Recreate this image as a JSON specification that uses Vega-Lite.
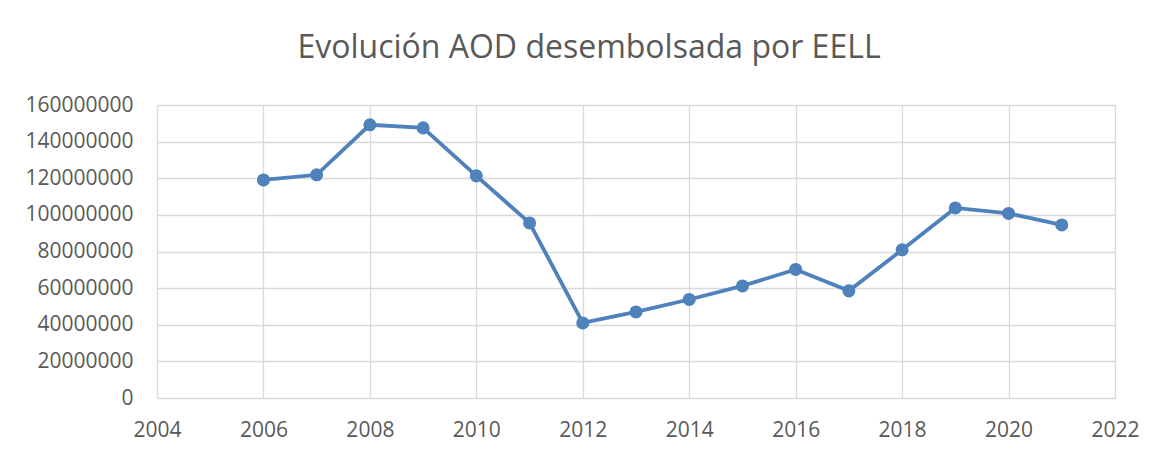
{
  "$schema": "https://vega.github.io/schema/vega-lite/v6.json",
  "autosize": {"type": "none"},
  "width": 958,
  "height": 293,
  "padding": {"left": 157, "top": 105, "right": 48, "bottom": 57},
  "background": "white",
  "config": {
    "view": {"stroke": null},
    "font": "Open Sans"
  },
  "title": {
    "text": "Evolución AOD desembolsada por EELL",
    "fontSize": 32,
    "font": "Open Sans",
    "fontWeight": "normal",
    "color": "#595959",
    "anchor": "middle",
    "frame": "group",
    "baseline": "alphabetic",
    "offset": 4,
    "dx": -47
  },
  "data": {
    "values": [
      {"year": 2006, "value": 119100000},
      {"year": 2007, "value": 121900000},
      {"year": 2008, "value": 149200000},
      {"year": 2009, "value": 147500000},
      {"year": 2010, "value": 121300000},
      {"year": 2011, "value": 95600000},
      {"year": 2012, "value": 41000000},
      {"year": 2013, "value": 47000000},
      {"year": 2014, "value": 53800000},
      {"year": 2015, "value": 61200000},
      {"year": 2016, "value": 70200000},
      {"year": 2017, "value": 58500000},
      {"year": 2018, "value": 80900000},
      {"year": 2019, "value": 103800000},
      {"year": 2020, "value": 100800000},
      {"year": 2021, "value": 94500000}
    ]
  },
  "encoding": {
    "x": {
      "field": "year",
      "type": "quantitative",
      "scale": {"domain": [2004, 2022], "nice": false, "zero": false},
      "axis": {
        "title": null,
        "values": [2004, 2006, 2008, 2010, 2012, 2014, 2016, 2018, 2020, 2022],
        "format": "d",
        "domain": false,
        "ticks": false,
        "grid": true,
        "gridColor": "#D9D9D9",
        "gridWidth": 1.3,
        "labelFont": "Open Sans",
        "labelFontSize": 21,
        "labelColor": "#595959",
        "labelPadding": 21,
        "labelFlush": false
      }
    },
    "y": {
      "field": "value",
      "type": "quantitative",
      "scale": {"domain": [0, 160000000], "nice": false},
      "axis": {
        "title": null,
        "values": [0, 20000000, 40000000, 60000000, 80000000, 100000000, 120000000, 140000000, 160000000],
        "format": "d",
        "domain": false,
        "ticks": false,
        "grid": true,
        "gridColor": "#D9D9D9",
        "gridWidth": 1.3,
        "labelFont": "Open Sans",
        "labelFontSize": 21,
        "labelColor": "#595959",
        "labelPadding": 24,
        "labelFlush": false
      }
    }
  },
  "layer": [
    {"mark": {"type": "line", "color": "#4F81BD", "strokeWidth": 3.8}},
    {"mark": {"type": "circle", "color": "#4F81BD", "opacity": 1, "size": 170}}
  ]
}
